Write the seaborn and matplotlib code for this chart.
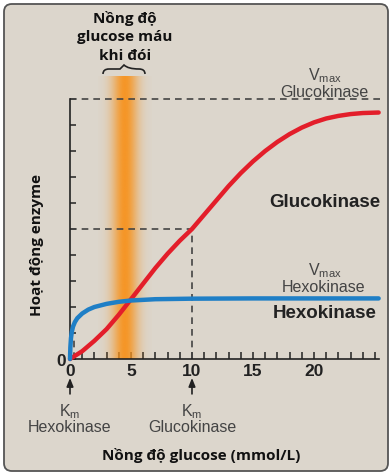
import matplotlib.pyplot as plt
from matplotlib.patches import FancyBboxPatch, PathPatch
from matplotlib.path import Path
from matplotlib.colors import to_rgb
import seaborn as sns
import pandas as pd
import numpy as np

# data
glucose_gk = [0, 1, 2, 3, 4, 5, 6, 7, 8, 9, 10, 11, 12, 13, 14, 15, 16, 17, 18, 19, 20, 21, 22, 23, 24, 25.3]
activity_gk = [0, 0.3, 0.7, 1.15, 1.7, 2.3, 2.9, 3.5, 4.05, 4.55, 5.0, 5.55, 6.1, 6.65, 7.15, 7.6, 8.0, 8.35, 8.65, 8.9, 9.1, 9.25, 9.35, 9.42, 9.46, 9.48]
glucose_hk = [0, 0.03, 0.08, 0.15, 0.25, 0.4, 0.6, 1.0, 1.5, 2.0, 3.0, 4.0, 5.0, 7.0, 10.0, 15.0, 20.0, 25.3]
activity_hk = [0, 0.45, 0.8, 1.05, 1.25, 1.42, 1.57, 1.75, 1.9, 2.0, 2.12, 2.2, 2.25, 2.3, 2.32, 2.33, 2.33, 2.33]
x_ticks = [0, 5, 10, 15, 20]
vmax_gk, km_gk = 10, 10
vmax_hk, km_hk = 2.33, 0.35
fasting_lo, fasting_peak, fasting_hi = 2.3, 4.5, 6.7

W, H = 392, 477
BG = '#dcd6cc'
RED = '#e31e2a'
BLUE = '#1f7fc6'
ORANGE = '#f7931e'
GRAY = '#444444'

sns.set_style('ticks')
plt.rcParams['font.family'] = ['Liberation Sans', 'DejaVu Sans']
plt.rcParams['mathtext.fontset'] = 'custom'
plt.rcParams['mathtext.rm'] = 'Liberation Sans'
plt.rcParams['mathtext.it'] = 'Liberation Sans'

fig = plt.figure(figsize=(W / 100, H / 100), dpi=100)
fig.patch.set_facecolor('white')
fig.patches.append(FancyBboxPatch((4 / W, 5 / H), 384 / W, 467 / H,
                                  boxstyle='round,pad=0,rounding_size=0.02',
                                  mutation_aspect=W / H, transform=fig.transFigure,
                                  fc=BG, ec='#555555', lw=1.3, zorder=-5))

def fx(px):
    return px / W

def fy(py):
    return 1 - py / H

ax = fig.add_axes([fx(70), fy(360), 309 / W, 286 / H])
ax.set_zorder(1)
ax.set_facecolor('none')

# fasting band
xs = np.linspace(fasting_lo, fasting_hi, 240)
alpha = 0.95 * np.exp(-((xs - fasting_peak) / 1.05) ** 2)
img = np.zeros((1, len(xs), 4))
img[..., :3] = to_rgb(ORANGE)
img[..., 3] = alpha
ax.imshow(img, extent=[fasting_lo, fasting_hi, 0, 10.85], aspect='auto',
          interpolation='bilinear', zorder=1)

# dashed guides
dash = dict(color=GRAY, lw=1.2, ls=(0, (4, 3)), clip_on=False, zorder=2)
ax.plot([0, 25.8], [vmax_gk, vmax_gk], **dash)
ax.plot([0, km_gk], [vmax_gk / 2, vmax_gk / 2], **dash)
ax.plot([km_gk, km_gk], [0, vmax_gk / 2], **dash)
ax.plot([km_hk, km_hk], [0, 0.9], **dash)

df_gk = pd.DataFrame({'glucose': glucose_gk, 'activity': activity_gk})
df_hk = pd.DataFrame({'glucose': glucose_hk, 'activity': activity_hk})
sns.lineplot(data=df_gk, x='glucose', y='activity', color=RED, lw=3.2,
             estimator=None, sort=False, ax=ax, zorder=4, clip_on=False)
sns.lineplot(data=df_hk, x='glucose', y='activity', color=BLUE, lw=3.2,
             estimator=None, sort=False, ax=ax, zorder=5, clip_on=False)

ax.set_xlim(0, 25.33)
ax.set_ylim(0, 11)
sns.despine(ax=ax)
ax.spines['left'].set_bounds(0, 10)
ax.spines['bottom'].set_bounds(0, 25.33)
for s in ('left', 'bottom'):
    ax.spines[s].set_color('#222222')
    ax.spines[s].set_linewidth(1.2)

ax.set_xticks(x_ticks)
ax.set_xticklabels([str(t) for t in x_ticks], fontsize=12.5, fontweight='bold', color='#222222')
ax.set_xticks(range(0, 26), minor=True)
ax.set_yticks(range(0, 11))
ax.set_yticklabels(['0'] + [''] * 10, fontsize=12.5, fontweight='bold', color='#222222')
ax.tick_params(axis='both', which='both', direction='in', length=5, width=1.1,
               color='#222222', pad=3)
ax.tick_params(axis='y', pad=3, length=4)
ax.set_xlabel('')
ax.set_ylabel('')

# Km arrows and labels
for xk, name in [(0, 'Hexokinase'), (km_gk, 'Glucokinase')]:
    ax.annotate('', xy=(xk, -0.62), xytext=(xk, -1.45), annotation_clip=False,
                arrowprops=dict(arrowstyle='-|>,head_length=0.5,head_width=0.2',
                                color='#222222', lw=1.2))
    fig.text(fx(70 + xk * 12.2), fy(412), r'K$_{\mathrm{m}}$', ha='center', va='center',
             fontsize=11.5, color=GRAY)
    fig.text(fx(70 + xk * 12.2), fy(428), name, ha='center', va='center',
             fontsize=11.5, color=GRAY)

# Vmax labels
fig.text(fx(325), fy(76), r'V$_{\mathrm{max}}$', ha='center', va='center', fontsize=11.5, color=GRAY)
fig.text(fx(324), fy(93), 'Glucokinase', ha='center', va='center', fontsize=11.5, color=GRAY)
fig.text(fx(325), fy(271), r'V$_{\mathrm{max}}$', ha='center', va='center', fontsize=11.5, color=GRAY)
fig.text(fx(324), fy(288), 'Hexokinase', ha='center', va='center', fontsize=11.5, color=GRAY)
fig.text(fx(325), fy(203), 'Glucokinase', ha='center', va='center', fontsize=13.5,
         fontweight='bold', color='#222222')
fig.text(fx(325), fy(313), 'Hexokinase', ha='center', va='center', fontsize=13.5,
         fontweight='bold', color='#222222')

# brace over the fasting band
bx0, bx1, by = 103, 145, 75
bm = (bx0 + bx1) / 2
verts = [(bx0, by), (bx0, by - 5), (bx0 + 6, by - 5), (bm - 4, by - 5), (bm, by - 9),
         (bm, by - 9), (bm + 4, by - 5), (bx1 - 6, by - 5), (bx1, by - 5), (bx1, by)]
codes = [Path.MOVETO, Path.CURVE3, Path.CURVE3, Path.LINETO, Path.CURVE3,
         Path.MOVETO, Path.CURVE3, Path.LINETO, Path.CURVE3, Path.CURVE3]
verts_fig = [(fx(a), fy(b)) for a, b in verts]
fig.patches.append(PathPatch(Path(verts_fig, codes), transform=fig.transFigure,
                             fc='none', ec='#222222', lw=1.2))

# Vietnamese labels
vn = dict(family=['Open Sans', 'DejaVu Sans'], fontweight='bold', color='#111111')
fig.text(fx(125), fy(37), 'Nồng độ\nglucose máu\nkhi đói', ha='center', va='center',
         fontsize=11, linespacing=1.45, **vn)
fig.text(fx(37), fy(245), 'Hoạt động enzyme', ha='center', va='center', rotation=90,
         fontsize=11, **vn)
fig.text(fx(201), fy(456), 'Nồng độ glucose (mmol/L)', ha='center', va='center',
         fontsize=11, **vn)

fig.savefig('out.png', dpi=100)
